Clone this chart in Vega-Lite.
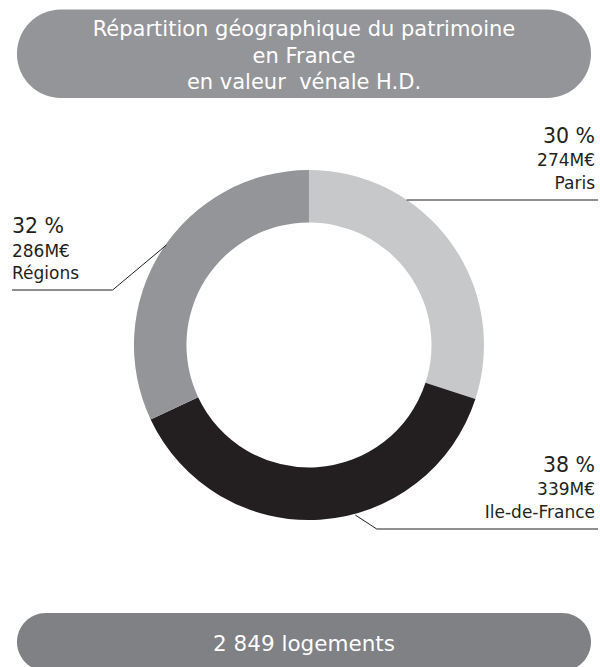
{
  "$schema": "https://vega.github.io/schema/vega-lite/v6.json",
  "width": 600,
  "height": 667,
  "autosize": {"type": "fit", "contains": "padding"},
  "padding": 0,
  "background": "white",
  "config": {"view": {"stroke": null}, "font": "DejaVu Sans"},
  "datasets": {
    "parts": [
      {"nom": "Paris", "part": 30, "etiquette": "30 %", "montant": "274M€", "ordre": 1, "lx": 597, "ly": 143},
      {"nom": "Ile-de-France", "part": 38, "etiquette": "38 %", "montant": "339M€", "ordre": 2, "lx": 597, "ly": 472},
      {"nom": "Régions", "part": 32, "etiquette": "32 %", "montant": "286M€", "ordre": 3, "lx": 12, "ly": 233}
    ],
    "traits": [
      {"nom": "Paris", "k": 1, "px": 408, "py": 200},
      {"nom": "Paris", "k": 2, "px": 600, "py": 200},
      {"nom": "Régions", "k": 1, "px": 167, "py": 245},
      {"nom": "Régions", "k": 2, "px": 113, "py": 290},
      {"nom": "Régions", "k": 3, "px": 12, "py": 290},
      {"nom": "Ile-de-France", "k": 1, "px": 356.5, "py": 515},
      {"nom": "Ile-de-France", "k": 2, "px": 378, "py": 529},
      {"nom": "Ile-de-France", "k": 3, "px": 600, "py": 529}
    ],
    "titre": [{"texte": ["Répartition géographique du patrimoine", "en France", "en valeur \u00a0vénale H.D."]}],
    "pied": [{"texte": "2 849 logements"}]
  },
  "layer": [
    {
      "data": {"name": "titre"},
      "mark": {"type": "rect", "color": "#949599", "cornerRadius": 44},
      "encoding": {
        "x": {"datum": 17, "type": "quantitative", "scale": {"domain": [0, 600], "nice": false, "zero": false}, "axis": null},
        "x2": {"datum": 593},
        "y": {"datum": 9.5, "type": "quantitative", "scale": {"domain": [0, 667], "nice": false, "zero": false, "reverse": true}, "axis": null},
        "y2": {"datum": 98}
      }
    },
    {
      "data": {"name": "titre"},
      "mark": {"type": "text", "color": "white", "fontSize": 21, "align": "center", "baseline": "alphabetic", "lineHeight": 26.7},
      "encoding": {
        "x": {"datum": 305, "type": "quantitative"},
        "y": {"datum": 36, "type": "quantitative"},
        "text": {"field": "texte"}
      }
    },
    {
      "data": {"name": "pied"},
      "mark": {"type": "rect", "color": "#808185", "cornerRadius": 29, "clip": true},
      "encoding": {
        "x": {"datum": 17, "type": "quantitative"},
        "x2": {"datum": 593},
        "y": {"datum": 613, "type": "quantitative"},
        "y2": {"datum": 671}
      }
    },
    {
      "data": {"name": "pied"},
      "mark": {"type": "text", "color": "white", "fontSize": 21.5, "align": "center", "baseline": "alphabetic"},
      "encoding": {
        "x": {"datum": 305, "type": "quantitative"},
        "y": {"datum": 651, "type": "quantitative"},
        "text": {"field": "texte"}
      }
    },
    {
      "data": {"name": "parts"},
      "mark": {"type": "arc", "radius": 175, "radius2": 122.5},
      "encoding": {
        "x": {"datum": 310, "type": "quantitative"},
        "y": {"datum": 345, "type": "quantitative"},
        "theta": {"field": "part", "type": "quantitative", "stack": true},
        "order": {"field": "ordre", "type": "quantitative"},
        "color": {"field": "nom", "type": "nominal", "scale": {"domain": ["Paris", "Ile-de-France", "Régions"], "range": ["#c7c8ca", "#231f20", "#939598"]}, "legend": null}
      }
    },
    {
      "data": {"name": "traits"},
      "mark": {"type": "line", "color": "#231f20", "strokeWidth": 1},
      "encoding": {
        "x": {"field": "px", "type": "quantitative"},
        "y": {"field": "py", "type": "quantitative"},
        "detail": {"field": "nom"},
        "order": {"field": "k", "type": "quantitative"}
      }
    },
    {
      "data": {"name": "parts"},
      "transform": [{"filter": "datum.lx > 300"}],
      "mark": {"type": "text", "color": "#231f20", "fontSize": 20.5, "align": "right", "baseline": "alphabetic"},
      "encoding": {
        "x": {"field": "lx", "type": "quantitative"},
        "y": {"field": "ly", "type": "quantitative"},
        "text": {"field": "etiquette"}
      }
    },
    {
      "data": {"name": "parts"},
      "transform": [{"filter": "datum.lx > 300"}],
      "mark": {"type": "text", "color": "#231f20", "fontSize": 17, "align": "right", "baseline": "alphabetic", "dy": 23},
      "encoding": {
        "x": {"field": "lx", "type": "quantitative"},
        "y": {"field": "ly", "type": "quantitative"},
        "text": {"field": "montant"}
      }
    },
    {
      "data": {"name": "parts"},
      "transform": [{"filter": "datum.lx > 300"}],
      "mark": {"type": "text", "color": "#231f20", "fontSize": 17, "align": "right", "baseline": "alphabetic", "dy": 45.5},
      "encoding": {
        "x": {"field": "lx", "type": "quantitative"},
        "y": {"field": "ly", "type": "quantitative"},
        "text": {"field": "nom"}
      }
    },
    {
      "data": {"name": "parts"},
      "transform": [{"filter": "datum.lx < 300"}],
      "mark": {"type": "text", "color": "#231f20", "fontSize": 20.5, "align": "left", "baseline": "alphabetic"},
      "encoding": {
        "x": {"field": "lx", "type": "quantitative"},
        "y": {"field": "ly", "type": "quantitative"},
        "text": {"field": "etiquette"}
      }
    },
    {
      "data": {"name": "parts"},
      "transform": [{"filter": "datum.lx < 300"}],
      "mark": {"type": "text", "color": "#231f20", "fontSize": 17, "align": "left", "baseline": "alphabetic", "dy": 24},
      "encoding": {
        "x": {"field": "lx", "type": "quantitative"},
        "y": {"field": "ly", "type": "quantitative"},
        "text": {"field": "montant"}
      }
    },
    {
      "data": {"name": "parts"},
      "transform": [{"filter": "datum.lx < 300"}],
      "mark": {"type": "text", "color": "#231f20", "fontSize": 17, "align": "left", "baseline": "alphabetic", "dy": 46},
      "encoding": {
        "x": {"field": "lx", "type": "quantitative"},
        "y": {"field": "ly", "type": "quantitative"},
        "text": {"field": "nom"}
      }
    }
  ]
}
